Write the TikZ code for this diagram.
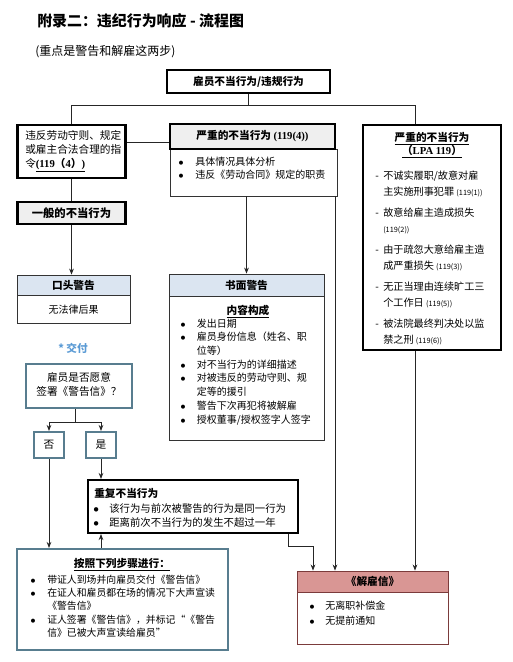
\documentclass[tikz,border=0pt]{standalone}
\usepackage{fontspec}
\setmainfont{Noto Sans CJK SC}
\newfontfamily\lserif{Liberation Serif}
\usetikzlibrary{arrows.meta}
\definecolor{hdrgray}{HTML}{EFEFEF}
\definecolor{hdrblue}{HTML}{DBE5F1}
\definecolor{hdrred}{HTML}{D99694}
\definecolor{steel}{HTML}{587D8F}
\definecolor{redline}{HTML}{7B3B3B}
\definecolor{lblue}{HTML}{5B9BD5}
\newcommand\ltab[1]{\begin{tabular}[t]{@{}l@{}}#1\end{tabular}}
\newcommand\ctab[1]{\begin{tabular}[t]{@{}c@{}}#1\end{tabular}}
\newcommand\btab[2]{\begin{tabular}[t]{@{}p{#1}@{}l@{}}#2\end{tabular}}
\newcommand\bul{$\bullet$}
\newcommand\smtxt{\fontsize{5.5}{7}\selectfont}
\begin{document}
\begin{tikzpicture}[x=0.75pt,y=-0.75pt,
  wh/.style 2 args={minimum width=#1*0.75pt,minimum height=#2*0.75pt},
  thickbox/.style={draw=black,line width=1.6pt,inner sep=0pt},
  thinbox/.style={draw=black!80,line width=0.6pt,inner sep=0pt},
  steelbox/.style={draw=steel,line width=1.6pt,inner sep=0pt},
  redbox/.style={draw=redline,line width=0.7pt,inner sep=0pt},
  txt/.style={inner sep=0pt,font=\fontsize{7.5}{10.3}\selectfont},
  hb/.style={font=\fontsize{8}{10}\selectfont\bfseries},
  conn/.style={draw=black!85,line width=0.6pt},
  arr/.style={conn,-{Stealth[length=4.5pt,width=3.5pt]}}]
\fill[white] (0,0) rectangle (513,662);
\useasboundingbox (0,0) rectangle (513,662);

\node[anchor=base west,inner sep=0pt,font=\fontsize{11.2}{13}\selectfont\bfseries] (title) at (37,26) {附录二：违纪行为响应 - 流程图};
\node[anchor=base west,inner sep=0pt,font=\fontsize{9}{11}\selectfont] (sub) at (35,55) {(重点是警告和解雇这两步)};

\node[thickbox,wh={163}{23},hb] (top) at (248.5,81.5) {雇员不当行为/违规行为};

% left branch
\node[thickbox,wh={108}{53}] (left) at (71.5,151.5) {};
\node[txt,anchor=base west,font=\fontsize{8}{10.5}\selectfont] (lefttxt) at (25,139) {\ltab{违反劳动守则、规定\\或雇主合法合理的指\\令\underline{\textbf{{\lserif (119}（{\lserif 4}）{\lserif )}}}}};
\node[thickbox,fill=hdrgray,wh={108}{22},font=\fontsize{8.5}{10}\selectfont\bfseries] (gen) at (71.5,213) {一般的不当行为};

\node[thinbox,fill=hdrblue,wh={113}{20},hb] (oral) at (73.5,285) {口头警告};
\node[thinbox,wh={113}{28},anchor=north,txt] (oralb) at (oral.south) {无法律后果};

\node[inner sep=0pt,text=lblue,font=\fontsize{8}{10}\selectfont\bfseries] (deliver) at (73,348) {* 交付};

\node[steelbox,wh={106}{44}] (ask) at (79,386) {};
\node[txt,anchor=base,font=\fontsize{8}{10.5}\selectfont] (asktxt) at (79,381) {\ctab{雇员是否愿意\\签署《警告信》？}};
\node[steelbox,wh={30}{26},font=\fontsize{8}{10}\selectfont] (no) at (49,445) {否};
\node[steelbox,wh={30}{26},font=\fontsize{8}{10}\selectfont] (yes) at (101,445) {是};

% repeat
\node[thickbox,wh={210}{53}] (rep) at (193,506.5) {};
\node[txt,anchor=base west,hb] (reptitle) at (94,497) {重复不当行为};
\node[txt,anchor=base west,font=\fontsize{7.8}{10.5}\selectfont] (replist) at (93,512) {\btab{12pt}{\bul & 该行为与前次被警告的行为是同一行为\\ \bul & 距离前次不当行为的发生不超过一年}};

% steps
\node[steelbox,wh={211}{101}] (steps) at (122.5,599.5) {};
\node[txt,anchor=base,hb] (stepstitle) at (122,567) {\underline{按照下列步骤进行：}};
\node[txt,anchor=base west,font=\fontsize{7.4}{10.1}\selectfont] (stepslist) at (30,583) {\btab{12.75pt}{\bul & 带证人到场并向雇员交付《警告信》\\ \bul & 在证人和雇员都在场的情况下大声宣读\\ & 《警告信》\\ \bul & 证人签署《警告信》，并标记“《警告\\ & 信》已被大声宣读给雇员”}};

% middle
\node[thinbox,wh={167}{47}] (sb) at (253.5,172.5) {};
\node[thickbox,fill=hdrgray,wh={165}{25},hb] (sh) at (252.5,136.5) {严重的不当行为 {\lserif\bfseries (119(4))}};
\node[txt,anchor=base west] (sblist) at (178,165) {\btab{12.75pt}{\bul & 具体情况具体分析\\ \bul & 违反《劳动合同》规定的职责}};

% written warning
\node[thinbox,fill=hdrblue,wh={155}{22},hb] (wr) at (246.5,285) {书面警告};
\node[thinbox,wh={155}{144},anchor=north] (wrb) at (wr.south) {};
\node[txt,anchor=base,hb] (wrtitle) at (248,314) {\underline{内容构成}};
\node[txt,anchor=base west] (wrlist) at (180,327) {\btab{12.5pt}{\bul & 发出日期\\ \bul & 雇员身份信息（姓名、职\\ & 位等）\\ \bul & 对不当行为的详细描述\\ \bul & 对被违反的劳动守则、规\\ & 定等的援引\\ \bul & 警告下次再犯将被解雇\\ \bul & 授权董事/授权签字人签字}};

% right
\node[thickbox,wh={138}{225}] (rbox) at (432,237.5) {};
\node[txt,anchor=base,hb] (rtitle) at (432,141) {\ctab{\underline{严重的不当行为}\\ \underline{（{\lserif LPA 119}）}}};
\node[txt,anchor=base west,font=\fontsize{7.6}{12}\selectfont] (rlist) at (375,179) {\begin{tabular}[t]{@{}p{6pt}@{}l@{}}
- & 不诚实履职/故意对雇\\ & 主实施刑事犯罪 {\smtxt (119(1))}\\[3.75pt]
- & 故意给雇主造成损失\\ & {\smtxt (119(2))}\\[3.75pt]
- & 由于疏忽大意给雇主造\\ & 成严重损失 {\smtxt (119(3))}\\[3.75pt]
- & 无正当理由连续旷工三\\ & 个工作日 {\smtxt (119(5))}\\[3.75pt]
- & 被法院最终判决处以监\\ & 禁之刑 {\smtxt (119(6))}
\end{tabular}};

% dismissal
\node[redbox,fill=hdrred,wh={151}{21},hb] (dis) at (372.5,581.5) {《解雇信》};
\node[redbox,wh={151}{52},anchor=north] (disb) at (dis.south) {};
\node[txt,anchor=base west] (dislist) at (309,609) {\btab{12pt}{\bul & 无离职补偿金\\[1pt] \bul & 无提前通知}};

% connectors
\coordinate (jL) at (71.5,105);
\coordinate (jR) at (415,105);
\coordinate (lm) at (0,142);
\coordinate (k2) at (335,0);
\coordinate (rk) at (288,546);
\coordinate (k1) at (313,546);
\coordinate (jd) at (75,422);
\draw[conn] (top.south) -- (top.south |- jL);
\draw[conn] (left.north) -- (jL) -- (jR) -- (jR |- rbox.north);
\draw[conn] (left.east |- lm) -- (sh.west |- lm);
\draw[conn] (left.south) -- (gen.north);
\draw[arr] (gen.south) -- (gen.south |- oral.north);
\draw[arr] (sb.south -| wr.north) -- (wr.north);
\draw[arr] (sb.south -| k2) -- (dis.north -| k2);
\draw[arr] (rbox.south -| jR) -- (dis.north -| jR);
\draw[arr] (rep.south -| rk) -- (rk) -- (k1) -- (k1 |- dis.north);
\draw[conn] (ask.south -| jd) -- (jd);
\draw[arr] (jd) -| (no.north);
\draw[arr] (jd) -| (yes.north);
\draw[arr] (no.south) -- (no.south |- steps.north);
\draw[arr] (yes.south) -- (yes.south |- rep.north);
\draw[arr] (steps.north -| yes.south) -- (rep.south -| yes.south);
\end{tikzpicture}
\end{document}
